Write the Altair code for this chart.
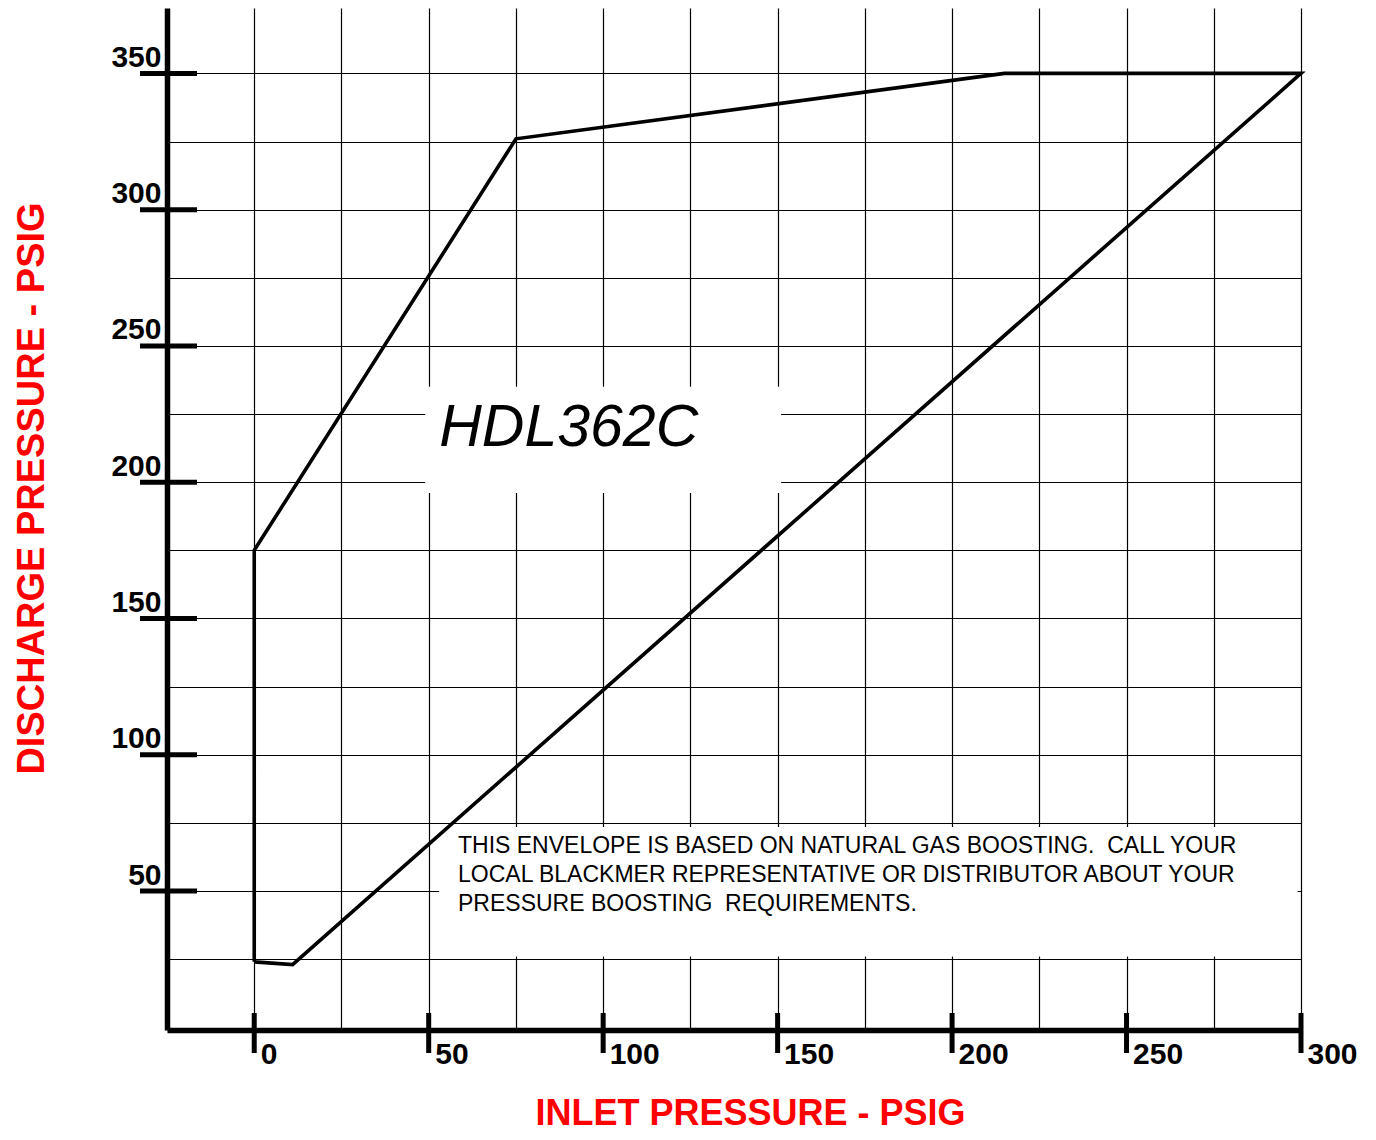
import altair as alt
import pandas as pd

# ---- data ----
inlet = [0, 0, 75, 215, 300, 11, 0]
discharge = [24, 175, 326, 350, 350, 23, 24]
seq = [0, 1, 2, 3, 4, 5, 6]

x_grid_values = [0, 25, 50, 75, 100, 125, 150, 175, 200, 225, 250, 275, 300]
x_label_values = [0, 50, 100, 150, 200, 250, 300]
y_grid_values = [25, 50, 75, 100, 125, 150, 175, 200, 225, 250, 275, 300, 325, 350]
y_label_values = [50, 100, 150, 200, 250, 300, 350]

x_title = "INLET PRESSURE - PSIG"
y_title = "DISCHARGE PRESSURE - PSIG"
model_label = "HDL362C"
note_lines = [
    "THIS ENVELOPE IS BASED ON NATURAL GAS BOOSTING.\u00a0 CALL YOUR",
    "LOCAL BLACKMER REPRESENTATIVE OR DISTRIBUTOR ABOUT YOUR",
    "PRESSURE BOOSTING\u00a0 REQUIREMENTS.",
]

FONT = "Liberation Sans"

env = pd.DataFrame({"inlet": inlet, "discharge": discharge, "seq": seq})

xs = alt.Scale(domain=[-25, 300], nice=False, zero=False)
ys = alt.Scale(domain=[-1, 374], nice=False, zero=False)

x_axis = alt.Axis(
    values=x_grid_values,
    labelExpr="datum.value % 50 === 0 ? datum.label : ''",
    ticks=False, grid=True, gridColor="black", gridWidth=1.2, gridOpacity=1,
    domainColor="black", domainWidth=5.5,
    labelFont=FONT, labelFontSize=30, labelFontWeight="bold", labelColor="black",
    labelAlign="left", labelBaseline="alphabetic", labelPadding=33, labelOffset=6,
    labelOverlap=False, labelFlush=False, labelBound=False,
    title=x_title, titleFont=FONT, titleFontSize=36, titleFontWeight="bold",
    titleColor="#ff0000", titleX=583, titleY=94, titleAlign="center",
    titleBaseline="alphabetic", zindex=0,
)
y_axis = alt.Axis(
    values=y_grid_values,
    labelExpr="datum.value % 50 === 0 ? datum.label : ''",
    ticks=False, grid=True, gridColor="black", gridWidth=1.2, gridOpacity=1,
    domainColor="black", domainWidth=5.5,
    labelFont=FONT, labelFontSize=30, labelFontWeight="bold", labelColor="black",
    labelAlign="right", labelBaseline="alphabetic", labelPadding=6, labelOffset=-7,
    labelOverlap=False, labelFlush=False, labelBound=False,
    title=y_title, titleFont=FONT, titleFontSize=38, titleFontWeight="bold",
    titleColor="#ff0000", titleX=-124, titleY=480, titleAngle=270, titleAlign="center",
    titleBaseline="alphabetic", zindex=0,
)

def X(field):
    return alt.X(field, scale=xs, axis=x_axis)

def Y(field):
    return alt.Y(field, scale=ys, axis=y_axis)

envelope = alt.Chart(env).mark_line(color="black", strokeWidth=3.6).encode(
    x=X("inlet:Q"), y=Y("discharge:Q"), order="seq:Q",
)

y_ticks = alt.Chart(pd.DataFrame({"v": y_label_values})).mark_rule(
    color="black", strokeWidth=5
).encode(
    y=Y("v:Q"), x=alt.value(-27), x2=alt.value(30),
)
x_ticks = alt.Chart(pd.DataFrame({"v": x_label_values})).mark_rule(
    color="black", strokeWidth=5
).encode(
    x=X("v:Q"), y=alt.value(1005), y2=alt.value(1045),
)

model_box = pd.DataFrame({"x1": [49], "x2": [151], "y1": [196], "y2": [235]})
note_box = pd.DataFrame({"x1": [53], "x2": [299], "y1": [26], "y2": [73.5]})

def white_box(df):
    return alt.Chart(df).mark_rect(color="white").encode(
        x=X("x1:Q"), x2="x2:Q", y=Y("y1:Q"), y2="y2:Q",
    )

model_text = alt.Chart(pd.DataFrame({"x": [53.0], "y": [213.3], "t": [model_label]})).mark_text(
    align="left", baseline="alphabetic", font=FONT, fontSize=59, fontStyle="italic", color="black"
).encode(
    x=X("x:Q"), y=Y("y:Q"), text="t:N",
)

note_text = alt.Chart(pd.DataFrame({"x": [58.4], "y": [64.1], "t": ["\n".join(note_lines)]})).mark_text(
    align="left", baseline="alphabetic", font=FONT, fontSize=23, color="black",
    lineBreak="\n", lineHeight=29,
).encode(
    x=X("x:Q"), y=Y("y:Q"), text="t:N",
)

chart = alt.layer(
    white_box(model_box), white_box(note_box), y_ticks, x_ticks, envelope, model_text, note_text
).properties(
    width=1134, height=1022,
    autosize=alt.AutoSizeParams(type="none"),
    padding={"left": 159, "top": 0, "right": 60, "bottom": 102},
    background="white",
).configure_view(strokeWidth=0)

chart.save("out.html", embed_options={"renderer": "svg", "actions": False})
